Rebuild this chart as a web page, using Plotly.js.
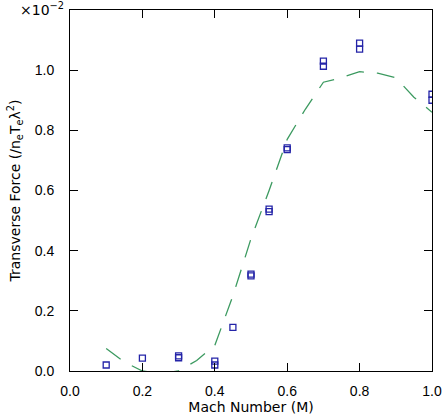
<!DOCTYPE html>
<html><head><meta charset="utf-8">
<script src="https://cdn.plot.ly/plotly-3.0.1.min.js"></script>
<style>body{margin:0;background:#fff}#chart{width:442px;height:415px}</style>
</head><body><div id="chart"></div>
<script>
// Measured points (units of 1e-2)
const markX = [0.1, 0.2, 0.3, 0.3, 0.4, 0.4, 0.45, 0.5, 0.5, 0.55, 0.55, 0.6, 0.6, 0.7, 0.7, 0.8, 0.8, 1.0, 1.0];
const markY = [0.020, 0.043, 0.050, 0.044, 0.033, 0.020, 0.145, 0.322, 0.316, 0.538, 0.530, 0.742, 0.736, 1.030, 1.013, 1.090, 1.070, 0.920, 0.900];
// Theory curve
const lineX = [0.1, 0.15, 0.2, 0.25, 0.3, 0.35, 0.4, 0.45, 0.5, 0.55, 0.6, 0.65, 0.7, 0.75, 0.8, 0.85, 0.9, 0.95, 1.0];
const lineY = [0.075, 0.030, 0.0, -0.008, 0.0, 0.035, 0.085, 0.25, 0.44, 0.60, 0.77, 0.87, 0.96, 0.975, 0.995, 0.99, 0.975, 0.91, 0.86];
const xTicks = [0, 0.2, 0.4, 0.6, 0.8, 1.0];
const yTicks = [0, 0.2, 0.4, 0.6, 0.8, 1.0];

const traces = [
  {x: lineX, y: lineY, mode: 'lines', type: 'scatter',
   line: {color: '#3c9a60', width: 1.3, dash: '18px,13px'}, hoverinfo: 'skip'},
  {x: markX, y: markY, mode: 'markers', type: 'scatter',
   marker: {symbol: 'square-open', size: 6, color: '#2424a8', line: {width: 1.3, color: '#2424a8'}}}
];
const tickFont = {family: 'Liberation Sans, Arial, sans-serif', size: 14, color: '#000'};
const axisCommon = {showgrid: false, zeroline: false, showline: true, linecolor: '#000', linewidth: 1,
  mirror: 'allticks', ticks: 'inside', ticklen: 8, tickcolor: '#000', tickwidth: 1, tickfont: tickFont};
const layout = {
  width: 442, height: 415, showlegend: false,
  paper_bgcolor: '#fff', plot_bgcolor: '#fff',
  margin: {l: 70, r: 10, t: 10, b: 44},
  xaxis: Object.assign({}, axisCommon, {range: [0, 1.0], tickvals: xTicks, ticktext: xTicks.map(v => v.toFixed(1)),
    ticklabelstandoff: 7,
    title: {text: 'Mach Number (M)', font: {family: 'DejaVu Sans, sans-serif', size: 14, color: '#000'}, standoff: 4}}),
  yaxis: Object.assign({}, axisCommon, {range: [0, 1.2], tickvals: yTicks, ticktext: yTicks.map(v => v.toFixed(1)),
    ticklabelstandoff: 12,
    title: {text: 'Transverse Force (/n<sub>e</sub>T<sub>e</sub>λ<sup>2</sup>)', font: {family: 'DejaVu Sans, sans-serif', size: 14, color: '#000'}, standoff: 10}}),
  annotations: [{xref: 'paper', yref: 'paper', x: 0, y: 1, xanchor: 'right', yanchor: 'middle', xshift: -4, yshift: 1,
    text: '×10<sup>−2</sup>', showarrow: false, font: {family: 'DejaVu Sans, sans-serif', size: 14, color: '#000'}}]
};
Plotly.newPlot('chart', traces, layout, {staticPlot: true, displayModeBar: false});
</script></body></html>
